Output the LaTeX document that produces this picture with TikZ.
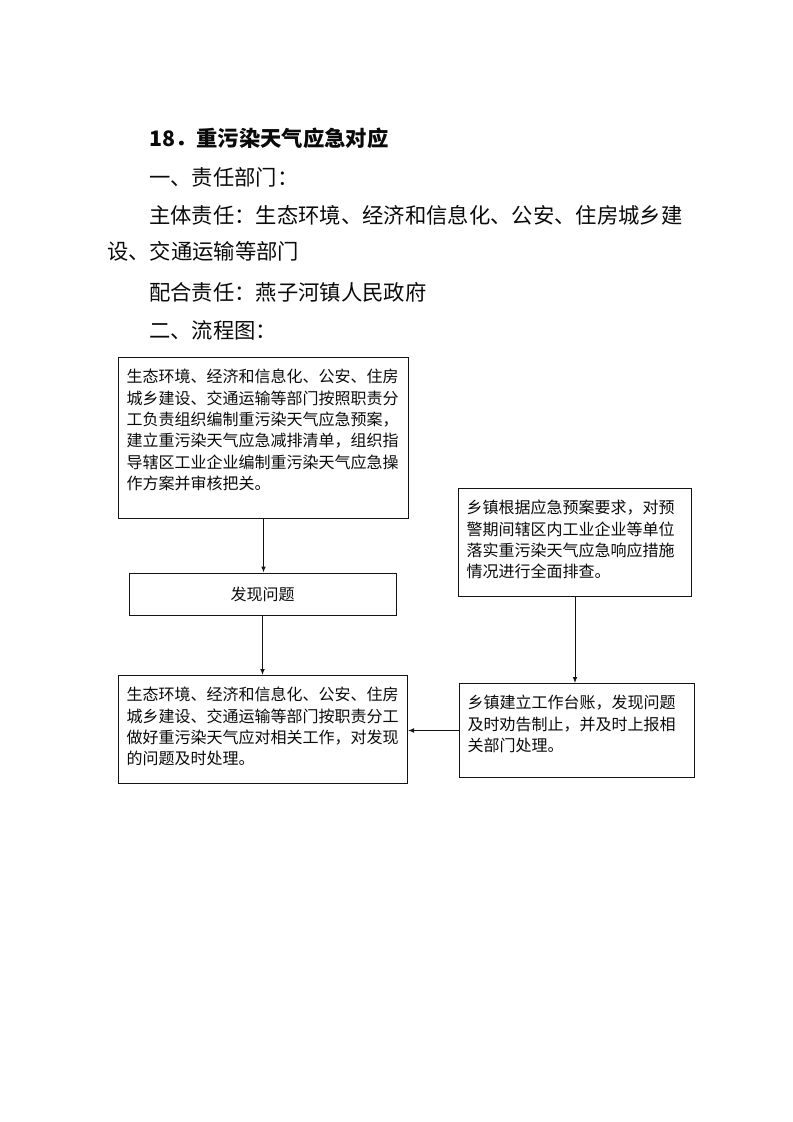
\documentclass[tikz,border=0pt]{standalone}
\usepackage{fontspec}
\setmainfont{Noto Sans CJK SC}
\usepackage{xcolor}
\usepackage{tikz}
\usetikzlibrary{arrows.meta}
\definecolor{flowedge}{RGB}{20,20,20}
\definecolor{flowink}{RGB}{10,10,10}
\tikzset{
  flowbox/.style={
    draw=flowedge, line width=0.75pt, text=flowink,
    font=\fontsize{12pt}{16pt}\selectfont, inner xsep=6pt, inner ysep=9pt
  },
  topbox/.style={
    flowbox, anchor=north west, align=left, text height=10pt
  },
  body/.style={font=\fontsize{16pt}{28pt}\selectfont, text=flowink, anchor=base west, inner sep=0pt},
  head/.style={body, font=\fontsize{16pt}{28pt}\selectfont\bfseries},
  arr/.style={-{Latex[length=4.5pt,width=3.6pt]}, draw=flowedge, line width=0.75pt}
}
\begin{document}
\begin{tikzpicture}[x=0.75pt, y=-0.75pt]
  \useasboundingbox (0,0) rectangle (793,1122);
  % HEADING
  \node[head] (title) at (149,146) {18．重污染天气应急对应};
  \node[body] (duty) at (149,185) {一、责任部门：};
  \node[body] (main1) at (149,223) {主体责任：生态环境、经济和信息化、公安、住房城乡建};
  \node[body] (main2) at (107,259) {设、交通运输等部门};
  \node[body] (assist) at (149,300) {配合责任：燕子河镇人民政府};
  \node[body] (chart) at (149,338) {二、流程图：};
  % LEFT COLUMN
  \node[topbox, text width=205.5pt, text depth=92.75pt] (plan) at (118,357)
    {生态环境、经济和信息化、公安、住房\\城乡建设、交通运输等部门按照职责分\\工负责组织编制重污染天气应急预案，\\建立重污染天气应急减排清单，组织指\\导辖区工业企业编制重污染天气应急操\\作方案并审核把关。};
  \node[flowbox, minimum width=200.25pt, minimum height=31.5pt] (find) at (262.5,594)
    {发现问题};
  \node[topbox, text width=204.75pt, text depth=53pt] (handle) at (118,675)
    {生态环境、经济和信息化、公安、住房\\城乡建设、交通运输等部门按职责分工\\做好重污染天气应对相关工作，对发现\\的问题及时处理。};
  % RIGHT COLUMN
  \node[topbox, text width=162.75pt, text depth=53pt] (check) at (458,488)
    {乡镇根据应急预案要求，对预\\警期间辖区内工业企业等单位\\落实重污染天气应急响应措施\\情况进行全面排查。};
  \node[topbox, text width=164.25pt, text depth=42.5pt] (ledger) at (459,683)
    {乡镇建立工作台账，发现问题\\及时劝告制止，并及时上报相\\关部门处理。};
  % ARROWS
  \draw[arr] (plan.south) -- (plan.south |- find.north);
  \draw[arr] (find.south) -- (find.south |- handle.north);
  \draw[arr] (check.south) -- (check.south |- ledger.north);
  \draw[arr] (ledger.west) -- (ledger.west -| handle.east);
\end{tikzpicture}
\end{document}
